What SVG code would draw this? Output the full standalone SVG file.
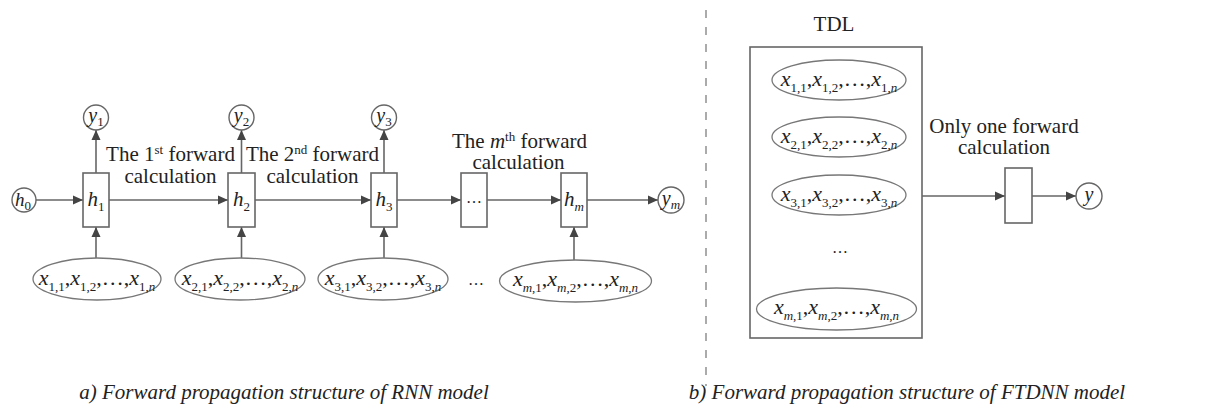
<svg xmlns="http://www.w3.org/2000/svg" width="1208" height="419" viewBox="0 0 1208 419">
<defs>
<marker id="arr" markerUnits="userSpaceOnUse" markerWidth="11" markerHeight="10" refX="10" refY="5" orient="auto">
<path d="M0,0.5 L10,5 L0,9.5 z" fill="#444"/>
</marker>
</defs>
<rect width="1208" height="419" fill="#fff"/>

<!-- separator -->
<line x1="706" y1="10" x2="706" y2="386" stroke="#888" stroke-width="1.4" stroke-dasharray="8 9"/>

<!-- connectors -->
<g id="connectors" stroke="#666" stroke-width="1.6" fill="none" marker-end="url(#arr)">
<line x1="36" y1="200" x2="83" y2="200"/>
<line x1="109" y1="200" x2="228" y2="200"/>
<line x1="255" y1="200" x2="371" y2="200"/>
<line x1="397" y1="200" x2="461" y2="200"/>
<line x1="487" y1="200" x2="561" y2="200"/>
<line x1="587" y1="200" x2="658" y2="200"/>
<line x1="96" y1="173" x2="96" y2="130"/>
<line x1="241.5" y1="173" x2="241.5" y2="130"/>
<line x1="384" y1="173" x2="384" y2="130"/>
<line x1="96" y1="258" x2="96" y2="227"/>
<line x1="241.5" y1="258" x2="241.5" y2="227"/>
<line x1="384" y1="258" x2="384" y2="227"/>
<line x1="574" y1="260" x2="574" y2="227"/>
<line x1="922" y1="196" x2="1005" y2="196"/>
<line x1="1032" y1="196" x2="1076" y2="196"/>
</g>

<!-- left: RNN -->
<g id="h0">
<circle cx="24" cy="200" r="12" fill="#fff" stroke="#666" stroke-width="1.4"/>
<text font-family="Liberation Serif" fill="#222" x="23" y="206" font-size="19" text-anchor="middle"><tspan font-style="italic">h</tspan><tspan font-size="13" dy="4">0</tspan></text>
</g>
<g id="h1">
<rect x="83" y="173" width="26" height="54" fill="#fff" stroke="#666" stroke-width="1.6"/>
<text font-family="Liberation Serif" fill="#222" x="96" y="206" font-size="21" text-anchor="middle"><tspan font-style="italic">h</tspan><tspan font-size="13" dy="5">1</tspan></text>
</g>
<g id="h2">
<rect x="228" y="173" width="27" height="54" fill="#fff" stroke="#666" stroke-width="1.6"/>
<text font-family="Liberation Serif" fill="#222" x="241.5" y="206" font-size="21" text-anchor="middle"><tspan font-style="italic">h</tspan><tspan font-size="13" dy="5">2</tspan></text>
</g>
<g id="h3">
<rect x="371" y="173" width="26" height="54" fill="#fff" stroke="#666" stroke-width="1.6"/>
<text font-family="Liberation Serif" fill="#222" x="384" y="206" font-size="21" text-anchor="middle"><tspan font-style="italic">h</tspan><tspan font-size="13" dy="5">3</tspan></text>
</g>
<g id="hdots">
<rect x="461" y="173" width="26" height="54" fill="#fff" stroke="#666" stroke-width="1.6"/>
<text font-family="Liberation Serif" fill="#222" x="474" y="203" font-size="16" text-anchor="middle">…</text>
</g>
<g id="hm">
<rect x="561" y="173" width="26" height="54" fill="#fff" stroke="#666" stroke-width="1.6"/>
<text font-family="Liberation Serif" fill="#222" x="574" y="206" font-size="21" text-anchor="middle"><tspan font-style="italic">h</tspan><tspan font-size="13" font-style="italic" dy="5">m</tspan></text>
</g>
<g id="ym">
<circle cx="671" cy="200" r="13" fill="#fff" stroke="#666" stroke-width="1.4"/>
<text font-family="Liberation Serif" fill="#222" x="671" y="205" font-size="20" text-anchor="middle"><tspan font-style="italic">y</tspan><tspan font-size="13" font-style="italic" dy="4">m</tspan></text>
</g>
<g id="y1">
<circle cx="96" cy="117.5" r="12.5" fill="#fff" stroke="#666" stroke-width="1.4"/>
<text font-family="Liberation Serif" fill="#222" x="96" y="122" font-size="20" text-anchor="middle"><tspan font-style="italic">y</tspan><tspan font-size="13" dy="4">1</tspan></text>
</g>
<g id="y2">
<circle cx="241.5" cy="117.5" r="12.5" fill="#fff" stroke="#666" stroke-width="1.4"/>
<text font-family="Liberation Serif" fill="#222" x="241.5" y="122" font-size="20" text-anchor="middle"><tspan font-style="italic">y</tspan><tspan font-size="13" dy="4">2</tspan></text>
</g>
<g id="y3">
<circle cx="384" cy="117.5" r="12.5" fill="#fff" stroke="#666" stroke-width="1.4"/>
<text font-family="Liberation Serif" fill="#222" x="384" y="122" font-size="20" text-anchor="middle"><tspan font-style="italic">y</tspan><tspan font-size="13" dy="4">3</tspan></text>
</g>

<g id="x1">
<ellipse cx="97" cy="279" rx="64" ry="21" fill="#fff" stroke="#777" stroke-width="1.3"/>
<text font-family="Liberation Serif" fill="#222" font-size="22" text-anchor="middle" x="97" y="285"><tspan font-style="italic">x</tspan><tspan font-size="13" dy="6">1,1</tspan><tspan dy="-6">,</tspan><tspan font-style="italic">x</tspan><tspan font-size="13" dy="6">1,2</tspan><tspan dy="-6">,…,</tspan><tspan font-style="italic">x</tspan><tspan font-size="13" dy="6">1,<tspan font-style="italic">n</tspan></tspan></text>
</g>
<g id="x2">
<ellipse cx="240" cy="279" rx="65" ry="21" fill="#fff" stroke="#777" stroke-width="1.3"/>
<text font-family="Liberation Serif" fill="#222" font-size="22" text-anchor="middle" x="240" y="285"><tspan font-style="italic">x</tspan><tspan font-size="13" dy="6">2,1</tspan><tspan dy="-6">,</tspan><tspan font-style="italic">x</tspan><tspan font-size="13" dy="6">2,2</tspan><tspan dy="-6">,…,</tspan><tspan font-style="italic">x</tspan><tspan font-size="13" dy="6">2,<tspan font-style="italic">n</tspan></tspan></text>
</g>
<g id="x3">
<ellipse cx="383" cy="279" rx="65" ry="21" fill="#fff" stroke="#777" stroke-width="1.3"/>
<text font-family="Liberation Serif" fill="#222" font-size="22" text-anchor="middle" x="383" y="285"><tspan font-style="italic">x</tspan><tspan font-size="13" dy="6">3,1</tspan><tspan dy="-6">,</tspan><tspan font-style="italic">x</tspan><tspan font-size="13" dy="6">3,2</tspan><tspan dy="-6">,…,</tspan><tspan font-style="italic">x</tspan><tspan font-size="13" dy="6">3,<tspan font-style="italic">n</tspan></tspan></text>
</g>
<text font-family="Liberation Serif" fill="#222" x="476" y="285" font-size="16" text-anchor="middle">…</text>
<g id="xm">
<ellipse cx="575.5" cy="281" rx="76" ry="21" fill="#fff" stroke="#777" stroke-width="1.3"/>
<text font-family="Liberation Serif" fill="#222" font-size="22" text-anchor="middle" x="575.5" y="286"><tspan font-style="italic">x</tspan><tspan font-size="13" dy="6"><tspan font-style="italic">m</tspan>,1</tspan><tspan dy="-6">,</tspan><tspan font-style="italic">x</tspan><tspan font-size="13" dy="6"><tspan font-style="italic">m</tspan>,2</tspan><tspan dy="-6">,…,</tspan><tspan font-style="italic">x</tspan><tspan font-size="13" dy="6"><tspan font-style="italic">m</tspan>,<tspan font-style="italic">n</tspan></tspan></text>
</g>

<g id="labels-left" font-family="Liberation Serif" fill="#222" font-size="21" text-anchor="middle">
<text font-family="Liberation Serif" x="170.5" y="161">The 1<tspan font-size="13" dy="-7">st</tspan><tspan dy="7"> forward</tspan></text>
<text font-family="Liberation Serif" x="170.5" y="183">calculation</text>
<text font-family="Liberation Serif" x="312.5" y="161">The 2<tspan font-size="13" dy="-7">nd</tspan><tspan dy="7"> forward</tspan></text>
<text font-family="Liberation Serif" x="312.5" y="183">calculation</text>
<text font-family="Liberation Serif" x="519.5" y="148">The <tspan font-style="italic">m</tspan><tspan font-size="13" dy="-7">th</tspan><tspan dy="7"> forward</tspan></text>
<text font-family="Liberation Serif" x="518.5" y="169">calculation</text>
</g>

<!-- right: FTDNN -->
<g id="tdl">
<text font-family="Liberation Serif" fill="#222" font-size="21" text-anchor="middle" x="834" y="31">TDL</text>
<rect x="750" y="47" width="172" height="291" fill="#fff" stroke="#666" stroke-width="1.6"/>
</g>
<g id="t1">
<ellipse cx="839" cy="80" rx="67" ry="20" fill="#fff" stroke="#777" stroke-width="1.3"/>
<text font-family="Liberation Serif" fill="#222" font-size="22" text-anchor="middle" x="839" y="86"><tspan font-style="italic">x</tspan><tspan font-size="13" dy="6">1,1</tspan><tspan dy="-6">,</tspan><tspan font-style="italic">x</tspan><tspan font-size="13" dy="6">1,2</tspan><tspan dy="-6">,…,</tspan><tspan font-style="italic">x</tspan><tspan font-size="13" dy="6">1,<tspan font-style="italic">n</tspan></tspan></text>
</g>
<g id="t2">
<ellipse cx="839" cy="137" rx="67" ry="20" fill="#fff" stroke="#777" stroke-width="1.3"/>
<text font-family="Liberation Serif" fill="#222" font-size="22" text-anchor="middle" x="839" y="143"><tspan font-style="italic">x</tspan><tspan font-size="13" dy="6">2,1</tspan><tspan dy="-6">,</tspan><tspan font-style="italic">x</tspan><tspan font-size="13" dy="6">2,2</tspan><tspan dy="-6">,…,</tspan><tspan font-style="italic">x</tspan><tspan font-size="13" dy="6">2,<tspan font-style="italic">n</tspan></tspan></text>
</g>
<g id="t3">
<ellipse cx="839" cy="195" rx="67" ry="20" fill="#fff" stroke="#777" stroke-width="1.3"/>
<text font-family="Liberation Serif" fill="#222" font-size="22" text-anchor="middle" x="839" y="201"><tspan font-style="italic">x</tspan><tspan font-size="13" dy="6">3,1</tspan><tspan dy="-6">,</tspan><tspan font-style="italic">x</tspan><tspan font-size="13" dy="6">3,2</tspan><tspan dy="-6">,…,</tspan><tspan font-style="italic">x</tspan><tspan font-size="13" dy="6">3,<tspan font-style="italic">n</tspan></tspan></text>
</g>
<text font-family="Liberation Serif" fill="#222" x="840" y="253" font-size="16" text-anchor="middle">…</text>
<g id="tm">
<ellipse cx="836.5" cy="309" rx="80" ry="21" fill="#fff" stroke="#777" stroke-width="1.3"/>
<text font-family="Liberation Serif" fill="#222" font-size="22" text-anchor="middle" x="836.5" y="314"><tspan font-style="italic">x</tspan><tspan font-size="13" dy="6"><tspan font-style="italic">m</tspan>,1</tspan><tspan dy="-6">,</tspan><tspan font-style="italic">x</tspan><tspan font-size="13" dy="6"><tspan font-style="italic">m</tspan>,2</tspan><tspan dy="-6">,…,</tspan><tspan font-style="italic">x</tspan><tspan font-size="13" dy="6"><tspan font-style="italic">m</tspan>,<tspan font-style="italic">n</tspan></tspan></text>
</g>
<g id="fbox">
<rect x="1005" y="168" width="27" height="55" fill="#fff" stroke="#666" stroke-width="1.6"/>
</g>
<g id="y">
<circle cx="1089" cy="196" r="13" fill="#fff" stroke="#666" stroke-width="1.4"/>
<text font-family="Liberation Serif" fill="#222" x="1089" y="201" font-size="20" text-anchor="middle" font-style="italic">y</text>
</g>
<g id="labels-right">
<text font-family="Liberation Serif" fill="#222" font-size="21" text-anchor="middle" x="1004" y="133">Only one forward</text>
<text font-family="Liberation Serif" fill="#222" font-size="21" text-anchor="middle" x="1004" y="154">calculation</text>
</g>

<g id="captions">
<text font-family="Liberation Serif" fill="#222" font-size="21" font-style="italic" text-anchor="middle" x="284" y="399">a) Forward propagation structure of RNN model</text>
<text font-family="Liberation Serif" fill="#222" font-size="21" font-style="italic" text-anchor="middle" x="907" y="399">b) Forward propagation structure of FTDNN model</text>
</g>
</svg>
